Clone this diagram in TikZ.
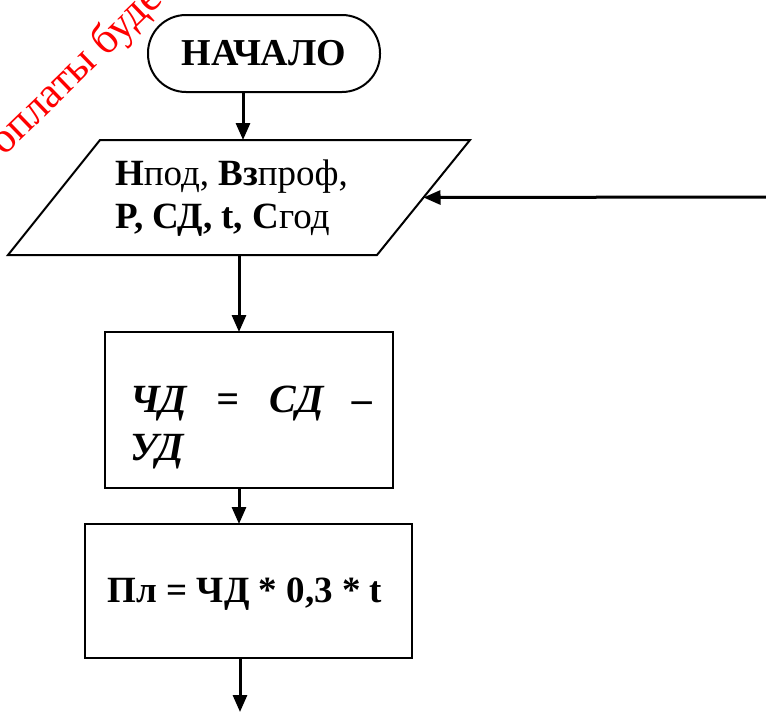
\documentclass[tikz,border=0pt]{standalone}
\usepackage{fontspec}
\setmainfont{Liberation Serif}
\usetikzlibrary{arrows.meta,calc}
\begin{document}
\begin{tikzpicture}[x=1pt,y=-1pt,
  shapeline/.style={draw=black,line width=2pt,inner sep=0pt,outer sep=0pt},
  arr/.style={line width=3pt,-{Triangle[length=17pt,width=14pt]}},
  txt/.style={inner sep=0pt,outer sep=0pt,text=black}]
\useasboundingbox[fill=white] (0,0) rectangle (766,712);
% watermark
\node[txt,text=red,rotate=44,anchor=base west,font=\fontsize{43}{43}\selectfont] (wm) at (4,156) {оплаты буде};
% terminal
\node[shapeline,rectangle,rounded corners=38pt,minimum width=232pt,minimum height=77pt,
  font=\fontsize{38}{44}\selectfont\bfseries] (start) at (264,53.5) {НАЧАЛО};
% input parallelogram
\coordinate (p1) at (100,140);
\coordinate (p2) at (470,140);
\coordinate (p3) at (377,255);
\coordinate (p4) at (8,255);
\draw[line width=2pt,line join=miter] (p1) -- (p2) -- (p3) -- (p4) -- cycle;
\node[inner sep=0pt,outer sep=0pt,minimum width=369pt,minimum height=115pt] (input) at (239,197.5) {};
\coordinate (inR) at ($(p2)!0.5!(p3)$);
\node[txt,anchor=base west,align=left,font=\fontsize{37}{43}\selectfont] (intext) at (115,228)
  {\textbf{Н}под, \textbf{Вз}проф,\\ \textbf{P, СД, t, С}год};
% process 1
\node[shapeline,rectangle,minimum width=288pt,minimum height=156pt] (calc1) at (249,410) {};
\node[txt,anchor=base west,font=\fontsize{40}{48}\selectfont\bfseries\itshape] (calc1text) at (130,460)
  {\parbox[b]{243pt}{ЧД\hfill=\hfill СД\hfill –\\УД}};
% process 2
\node[shapeline,rectangle,minimum width=327pt,minimum height=134pt] (calc2) at (248.5,591) {};
\node[txt,anchor=base,font=\fontsize{37}{40}\selectfont\bfseries] (calc2text) at (245,602) {Пл = ЧД * 0,3 * t};
% connectors
\coordinate (xa) at (243,0);
\coordinate (xb) at (239,0);
\coordinate (xc) at (240,0);
\coordinate (inarr) at (766,197);
\coordinate (endarr) at (240,712);
\draw[arr] (start.south -| xa) -- (input.north -| xa);
\draw[arr] (inarr) -- (inR);
\draw[arr] (input.south -| xb) -- (calc1.north -| xb);
\draw[arr] (calc1.south -| xb) -- (calc2.north -| xb);
\draw[arr] (calc2.south -| xc) -- (endarr);
\end{tikzpicture}
\end{document}
